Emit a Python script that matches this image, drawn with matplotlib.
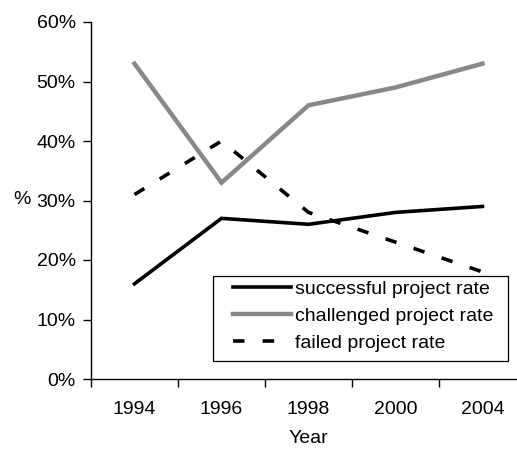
import matplotlib
matplotlib.use('Agg')
import matplotlib.pyplot as plt
from matplotlib.patches import Rectangle
from matplotlib.ticker import FixedLocator, FuncFormatter

years = ['1994', '1996', '1998', '2000', '2004']
successful = [16, 27, 26, 28, 29]
challenged = [53, 33, 46, 49, 53]
failed = [31, 40, 28, 23, 18]

plt.rcParams['font.family'] = 'Liberation Sans'
plt.rcParams['font.size'] = 14

fig = plt.figure(figsize=(5.17, 4.5), dpi=100)
W, H = 517, 450
# plot area in pixels: x 91..526, y 22..379 (right edge runs off the figure)
AX_L, AX_T, AX_W, AX_H = 91, 22, 435, 357
ax = fig.add_axes([AX_L / W, (H - AX_T - AX_H) / H, AX_W / W, AX_H / H])


def px2ax(px, py):
    return (px - AX_L) / AX_W, (AX_T + AX_H - py) / AX_H


x = range(len(years))
ax.plot(x, successful, color='black', lw=2.6, solid_joinstyle='miter',
        label='successful project rate')
ax.plot(x, challenged, color='#888888', lw=3.2, solid_joinstyle='miter',
        label='challenged project rate')
ax.plot(x, failed, color='black', lw=2.6, dashes=(3.2, 5.0), dash_capstyle='butt',
        label='failed project rate')

ax.set_xlim(-0.5, 4.5)
ax.set_ylim(0, 60)

for s in ['top', 'right']:
    ax.spines[s].set_visible(False)
ax.spines['left'].set_linewidth(1.0)
ax.spines['bottom'].set_linewidth(1.0)

# category ticks sit between categories, labels at centres
ax.xaxis.set_major_locator(FixedLocator([-0.5, 0.5, 1.5, 2.5, 3.5, 4.5]))
ax.xaxis.set_major_formatter(FuncFormatter(lambda v, p: ''))
ax.xaxis.set_minor_locator(FixedLocator(list(x)))
ax.set_xticklabels(years, minor=True)
ax.tick_params(axis='x', which='major', direction='out', length=6, width=1)
ax.tick_params(axis='x', which='minor', length=0, pad=16, labelsize=14)

ax.set_yticks(range(0, 61, 10))
ax.yaxis.set_major_formatter(FuncFormatter(lambda v, p: '%d%%' % v))
ax.tick_params(axis='y', direction='out', length=6, width=1, labelsize=14, pad=5)

ax.set_xlabel('Year', fontsize=14)
ax.xaxis.set_label_coords((308 - AX_L) / AX_W, -0.142)
fig.text(13 / W, 1 - 200 / H, '%', fontsize=14, va='center', ha='left')

# legend box drawn separately so the padding matches the Excel look
bx0, by0 = px2ax(213, 361)
bx1, by1 = px2ax(508, 276)
ax.add_patch(Rectangle((bx0, by0), bx1 - bx0, by1 - by0, transform=ax.transAxes,
                       facecolor='white', edgecolor='black', lw=0.9, zorder=4,
                       clip_on=False))
leg = ax.legend(loc='upper left', bbox_to_anchor=px2ax(233, 280),
                frameon=False, borderaxespad=0, borderpad=0,
                handlelength=3.0, handletextpad=0.2,
                labelspacing=0.48, fontsize=14)
leg.set_zorder(5)

fig.savefig('out.png', dpi=100)
